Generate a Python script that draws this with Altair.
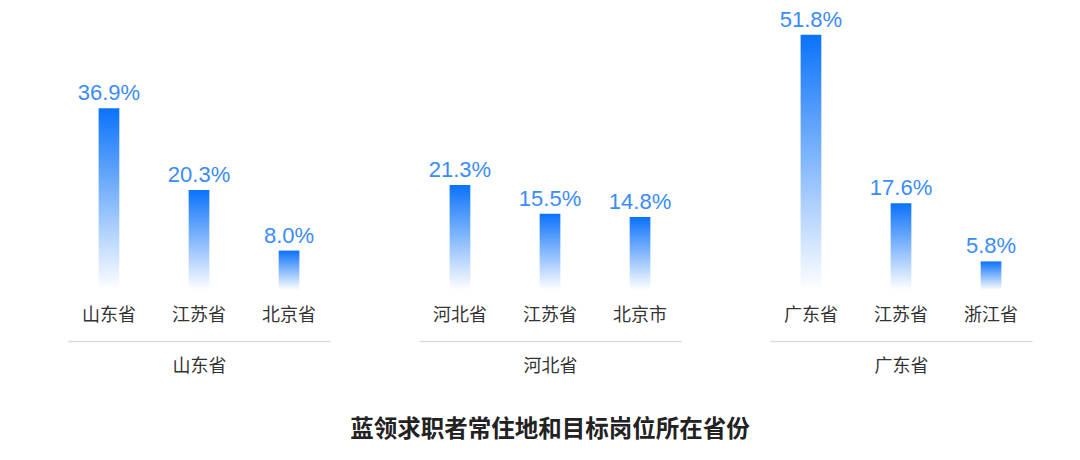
import pandas as pd
import altair as alt

FONT = "Noto Sans CJK SC"
NUM_FONT = "Liberation Sans"

# groups = where the job seekers live, targets = province of the wanted job
groups = ["山东省", "河北省", "广东省"]
targets = [
    ["山东省", "江苏省", "北京省"],
    ["河北省", "江苏省", "北京市"],
    ["广东省", "江苏省", "浙江省"],
]
shares = [
    [36.9, 20.3, 8.0],
    [21.3, 15.5, 14.8],
    [51.8, 17.6, 5.8],
]

blue = alt.Gradient(
    gradient="linear",
    stops=[alt.GradientStop(color="#ffffff", offset=0),
           alt.GradientStop(color="#0a72fa", offset=1)],
    x1=1, x2=1, y1=1, y2=0,
)


def panel(i):
    df = pd.DataFrame({"target": targets[i], "share": shares[i]})
    base = alt.Chart(df).encode(
        x=alt.X("target:N", sort=None, title=groups[i],
                scale=alt.Scale(paddingInner=0.77, paddingOuter=0.34),
                axis=alt.Axis(orient="bottom", offset=51, ticks=False,
                              domainColor="#d9d9d9", domainWidth=1.5,
                              labelPadding=-35, labelAngle=0,
                              labelFont=FONT, labelFontSize=18, labelColor="#333333",
                              titleFont=FONT, titleFontSize=18, titleColor="#333333",
                              titleFontWeight="normal", titleY=25, titleBaseline="middle")),
        y=alt.Y("share:Q", scale=alt.Scale(domain=[0, 55]), axis=None),
    )
    bars = base.mark_bar(color=blue)
    text = base.transform_calculate(
        label="format(datum.share, '.1f') + '%'"
    ).mark_text(dy=-15, fontSize=22, font=NUM_FONT, color="#3a8cf7", baseline="middle").encode(
        text="label:N"
    )
    return (bars + text).properties(width=262, height=271)


chart = alt.hconcat(panel(0), panel(1), panel(2), spacing=89).properties(
    padding={"left": 60, "top": 0, "right": 10, "bottom": 10},
    title=alt.TitleParams("蓝领求职者常住地和目标岗位所在省份", orient="bottom", anchor="middle",
                          font=FONT, fontSize=23.5, fontWeight="bold", color="#222222", offset=43),
).configure_view(strokeWidth=0)

chart.save("out.html", embed_options={"renderer": "svg", "actions": False})
